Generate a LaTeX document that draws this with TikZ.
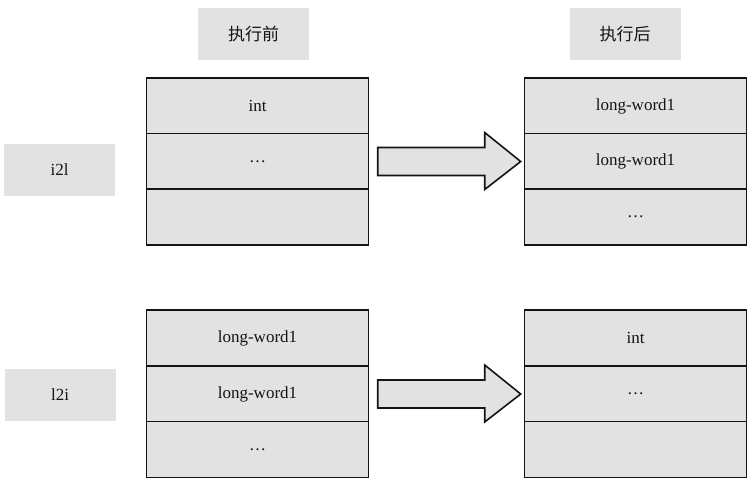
\documentclass[tikz,border=0pt]{standalone}
\usepackage{fontspec}
\setmainfont{Liberation Serif}
\newfontfamily\cjk{Noto Sans CJK SC}
\definecolor{cellgray}{RGB}{226,226,226}
\definecolor{inkgray}{RGB}{20,20,20}
\begin{document}
\begin{tikzpicture}[x=1pt, y=-1pt]
        \tikzstyle{every node}=[text=inkgray, font=\fontsize{17}{20}\selectfont]
        \tikzstyle{cell}=[rectangle, draw=inkgray, line width=1.6pt, fill=cellgray, minimum width=222pt, minimum height=55.7pt, inner sep=0pt]
        \tikzstyle{tag}=[rectangle, fill=cellgray, minimum width=111pt, minimum height=52pt]
        \tikzstyle{bigarrow}=[draw=inkgray, line width=1.6pt, fill=cellgray, line join=miter]
        \useasboundingbox (0,0) rectangle (751,483);

        \path (253.5,34) node[tag] (before) {\cjk 执行前};
        \path (625,34) node[tag] (after) {\cjk 执行后};
        \path (59.5,170) node[tag] (tagi) {i2l};
        \path (60,394.5) node[tag] (tagl) {l2i};

        % i2l
        \foreach \n/\y/\txt in {0/106/int, 1/161.5/\dots, 2/217/}
        {
          \path (257.5,\y) node[cell] (beforei\n) {\txt};
        }
        \foreach \n/\y/\txt in {0/106/long-word1, 1/161.5/long-word1, 2/217/\dots}
        {
          \path (635.5,\y) node[cell] (afteri\n) {\txt};
        }

        % l2i
        \foreach \n/\y/\txt in {0/338/long-word1, 1/394/long-word1, 2/449.5/\dots}
        {
          \path (257.5,\y) node[cell] (beforel\n) {\txt};
        }
        \foreach \n/\y/\txt in {0/338/int, 1/394/\dots, 2/449.5/}
        {
          \path (635.5,\y) node[cell] (afterl\n) {\txt};
        }

        \foreach \s in {i, l}
        {
          \draw [bigarrow] (after\s1.west) ++(-3,0)
            -- ++(-36,-29) -- ++(0,15) -- ++(-107,0) -- ++(0,28)
            -- ++(107,0) -- ++(0,14) -- cycle;
        }
      \end{tikzpicture}
\end{document}
